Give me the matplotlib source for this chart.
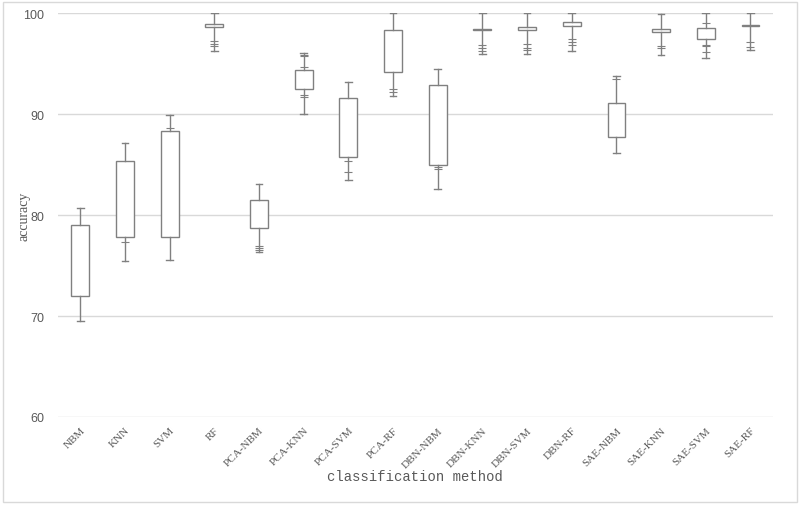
import matplotlib
matplotlib.use("Agg")
import matplotlib.pyplot as plt
from matplotlib.patches import Rectangle

categories = ["NBM", "KNN", "SVM", "RF", "PCA-NBM", "PCA-KNN", "PCA-SVM", "PCA-RF",
              "DBN-NBM", "DBN-KNN", "DBN-SVM", "DBN-RF", "SAE-NBM", "SAE-KNN", "SAE-SVM", "SAE-RF"]
whisker_low = [69.5, 75.4, 75.5, 96.3, 76.3, 90.0, 83.5, 91.75, 82.6, 96.0, 96.0, 96.3, 86.1, 95.9, 95.6, 96.4]
q1 = [72.0, 77.85, 77.85, 98.6, 78.75, 92.5, 85.8, 94.15, 85.0, 98.35, 98.35, 98.7, 87.75, 98.1, 97.4, 98.75]
q3 = [79.0, 85.4, 88.3, 98.9, 81.45, 94.35, 91.55, 98.3, 92.9, 98.45, 98.65, 99.1, 91.1, 98.4, 98.55, 98.85]
whisker_high = [80.7, 87.1, 89.9, 100.0, 83.1, 96.1, 93.2, 100.0, 94.5, 100.0, 100.0, 100.0, 93.8, 99.9, 100.0, 100.0]
extra_points = [
    [],
    [77.3],
    [88.6],
    [97.2, 96.9, 96.7],
    [76.9, 76.7, 76.5],
    [95.9, 95.8, 94.7, 91.9, 91.65],
    [85.4, 84.25],
    [92.5, 92.15],
    [84.8, 84.55],
    [96.8, 96.5, 96.3],
    [96.9, 96.5, 96.4],
    [97.4, 97.1, 96.8],
    [93.5],
    [96.7, 96.5],
    [99.05, 96.8, 96.7, 96.2],
    [97.1, 96.6],
]
yticks = [60, 70, 80, 90, 100]

gray = "#808080"
fig = plt.figure(figsize=(8.0, 5.06), dpi=100)
ax = fig.add_axes([0.0725, 0.174, 0.8935, 0.798])

stats = []
for i, c in enumerate(categories):
    stats.append(dict(label=c, whislo=whisker_low[i], q1=q1[i], med=q1[i],
                      q3=q3[i], whishi=whisker_high[i], fliers=[]))
positions = list(range(1, len(categories) + 1))
ax.bxp(stats, positions=positions, widths=0.4, showfliers=False,
       patch_artist=True,
       boxprops=dict(facecolor="white", edgecolor=gray, linewidth=1.0),
       whiskerprops=dict(color=gray, linewidth=1.0),
       capprops=dict(color=gray, linewidth=1.0),
       medianprops=dict(linewidth=0),
       capwidths=0.15, zorder=3)
for p, pts in zip(positions, extra_points):
    if pts:
        ax.plot([p] * len(pts), pts, linestyle="none", marker="_", markersize=6,
                markeredgewidth=0.8, color=gray, zorder=4)

ax.set_xlim(0.5, len(categories) + 0.5)
ax.set_ylim(60, 100)
ax.set_yticks(yticks)
ax.set_yticklabels([str(v) for v in yticks], fontsize=9, color="#595959", family="Liberation Sans")
ax.yaxis.grid(True, color="#d9d9d9", linewidth=1)
ax.set_axisbelow(True)
for s in ax.spines.values():
    s.set_visible(False)
ax.tick_params(axis="both", length=0)
ax.tick_params(axis="y", pad=10)
ax.set_xticks(positions)
ax.set_xticklabels(categories, rotation=45, ha="right", rotation_mode="anchor",
                   fontsize=8, color="#595959", family="Liberation Serif")
ax.tick_params(axis="x", pad=6)
ax.set_xlabel("classification method", fontsize=10, color="#595959",
              family="Liberation Mono", labelpad=0)
ax.set_ylabel("accuracy", fontsize=10, color="#595959", family="Liberation Serif")
ax.yaxis.set_label_coords(-0.038, 0.5)

fig.patches.append(Rectangle((0.004, 0.005), 0.992, 0.99, transform=fig.transFigure,
                             fill=False, edgecolor="#d9d9d9", linewidth=1))
fig.savefig("out.png", dpi=100, facecolor="white")
